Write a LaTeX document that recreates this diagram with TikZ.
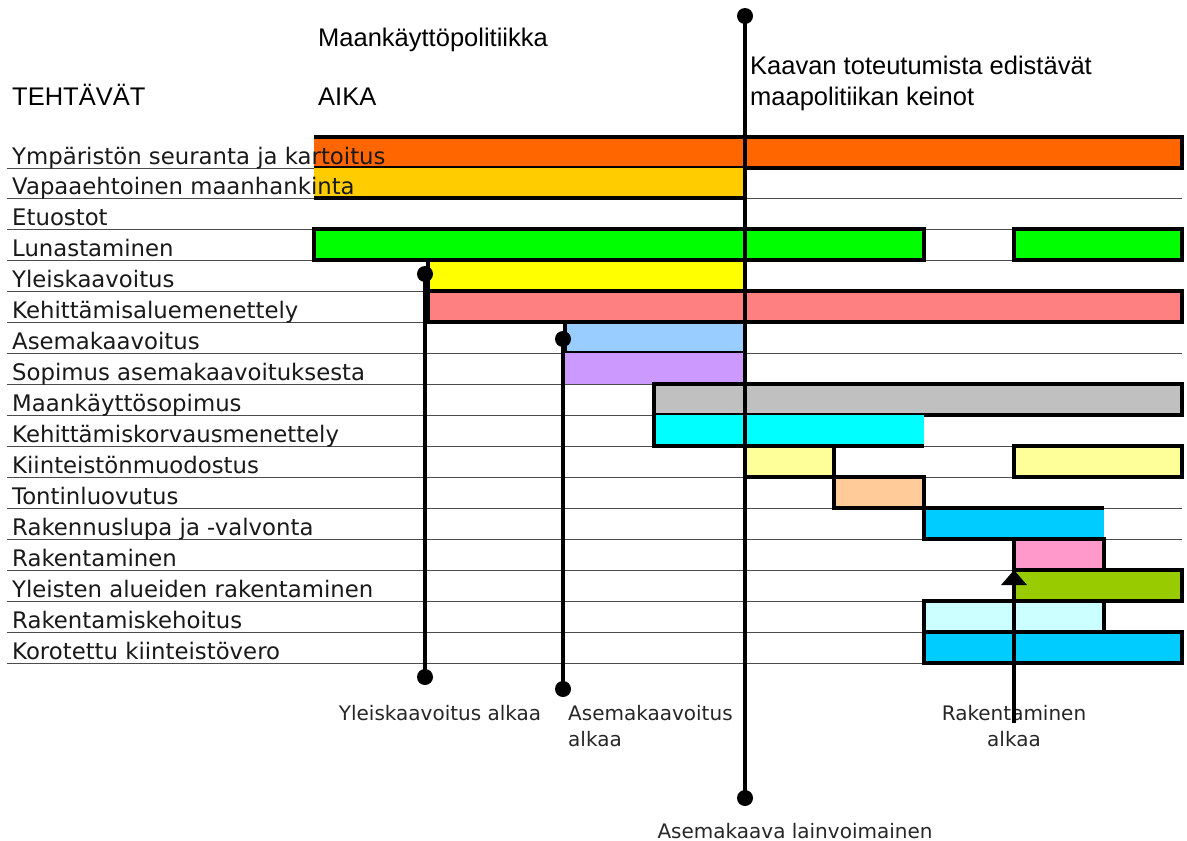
\documentclass[tikz,border=0pt]{standalone}
\usepackage{fontspec}
\setmainfont{DejaVu Sans}
\newfontfamily\headfont{Liberation Sans}
\usetikzlibrary{arrows.meta}
\definecolor{cOrange}{HTML}{FF6600}
\definecolor{cGold}{HTML}{FFCC00}
\definecolor{cGreen}{HTML}{00FF00}
\definecolor{cYellow}{HTML}{FFFF00}
\definecolor{cSalmon}{HTML}{FF8080}
\definecolor{cLightBlue}{HTML}{99CCFF}
\definecolor{cLavender}{HTML}{CC99FF}
\definecolor{cGray}{HTML}{C0C0C0}
\definecolor{cCyan}{HTML}{00FFFF}
\definecolor{cPaleYellow}{HTML}{FFFF99}
\definecolor{cPeach}{HTML}{FFCC99}
\definecolor{cSky}{HTML}{00CCFF}
\definecolor{cPink}{HTML}{FF99CC}
\definecolor{cOlive}{HTML}{99CC00}
\definecolor{cPaleCyan}{HTML}{CCFFFF}
\begin{document}
\begin{tikzpicture}[x=1pt,y=-1pt,
    bardraw/.style={line width=3.5pt},
    rowrule/.style={black!70,line width=1pt},
    tasklbl/.style={anchor=base west,inner sep=0pt,text=black!90,font=\fontsize{22.8}{26}\selectfont},
    headlbl/.style={anchor=base west,inner sep=0pt,font=\headfont\fontsize{25.5}{31}\selectfont},
    notelbl/.style={inner sep=0pt,text=black!85,font=\fontsize{20}{26}\selectfont},
    enddot/.style={circle,fill,inner sep=0pt,minimum size=16pt},
    markline/.style={line width=3.5pt}]
  \useasboundingbox (0,0) rectangle (1187,841);
  % row rules
  \foreach \y in {168,198,229,260,291,322,353,384,415,446,477,508,539,570,601,632,663}
    \draw [rowrule] (7,\y) -- (1182,\y);
  % bars
  \fill [cOrange] (314,137) rectangle (1182,168);
  \draw [bardraw] (314,137) -- (1182,137) -- (1182,168) -- (314,168);
  \fill [cGold] (314,168) rectangle (745,198);
  \draw [bardraw] (314,198) -- (745,198);
  \draw [bardraw,fill=cGreen] (314,229) rectangle (924,260);
  \draw [bardraw,fill=cGreen] (1014,229) rectangle (1182,260);
  \draw [bardraw,fill=cYellow] (428,260) rectangle (745,291);
  \draw [bardraw,fill=cSalmon] (428,291) rectangle (1182,322);
  \draw [bardraw,fill=cLightBlue] (565,322) rectangle (745,353);
  \fill [cLavender] (565,353) rectangle (745,384);
  \draw [bardraw,fill=cGray] (654,384) rectangle (1182,415);
  \fill [cCyan] (654,415) rectangle (924,446);
  \draw [bardraw] (924,446) -- (654,446) -- (654,415);
  \draw [bardraw,fill=cPaleYellow] (745,446) rectangle (834,477);
  \draw [bardraw,fill=cPaleYellow] (1014,446) rectangle (1182,477);
  \draw [bardraw,fill=cPeach] (834,477) rectangle (924,508);
  \fill [cSky] (924,508) rectangle (1104,539);
  \draw [bardraw] (1104,508) -- (924,508) -- (924,539) -- (1104,539);
  \draw [bardraw,fill=cPink] (1014,539) rectangle (1104,570);
  \draw [bardraw,fill=cOlive] (1014,570) rectangle (1182,601);
  \draw [bardraw,fill=cPaleCyan] (924,601) rectangle (1104,632);
  \draw [bardraw,fill=cSky] (924,632) rectangle (1182,663);
  % headings
  \node [headlbl] (politiikka) at (318,46) {Maankäyttöpolitiikka};
  \node [headlbl] (tehtavat) at (12,105) {TEHTÄVÄT};
  \node [headlbl] (aika) at (318,105) {AIKA};
  \node [headlbl] (keinot1) at (750,74) {Kaavan toteutumista edistävät};
  \node [headlbl] (keinot2) at (750,105) {maapolitiikan keinot};
  % tasks
  \node [tasklbl] (t0) at (12,164) {Ympäristön seuranta ja kartoitus};
  \node [tasklbl] (t1) at (12,194) {Vapaaehtoinen maanhankinta};
  \node [tasklbl] (t2) at (12,225) {Etuostot};
  \node [tasklbl] (t3) at (12,256) {Lunastaminen};
  \node [tasklbl] (t4) at (12,287) {Yleiskaavoitus};
  \node [tasklbl] (t5) at (12,318) {Kehittämisaluemenettely};
  \node [tasklbl] (t6) at (12,349) {Asemakaavoitus};
  \node [tasklbl] (t7) at (12,380) {Sopimus asemakaavoituksesta};
  \node [tasklbl] (t8) at (12,411) {Maankäyttösopimus};
  \node [tasklbl] (t9) at (12,442) {Kehittämiskorvausmenettely};
  \node [tasklbl] (t10) at (12,473) {Kiinteistönmuodostus};
  \node [tasklbl] (t11) at (12,504) {Tontinluovutus};
  \node [tasklbl] (t12) at (12,535) {Rakennuslupa ja -valvonta};
  \node [tasklbl] (t13) at (12,566) {Rakentaminen};
  \node [tasklbl] (t14) at (12,597) {Yleisten alueiden rakentaminen};
  \node [tasklbl] (t15) at (12,628) {Rakentamiskehoitus};
  \node [tasklbl] (t16) at (12,659) {Korotettu kiinteistövero};
  % milestones
  \node [enddot] (topdot) at (745,16) {};
  \node [enddot] (lawdot) at (745,798) {};
  \node [enddot] (ydot1) at (425,274) {};
  \node [enddot] (ydot2) at (425,677) {};
  \node [enddot] (adot1) at (563,339) {};
  \node [enddot] (adot2) at (563,689) {};
  \draw [markline] (topdot.center) -- (lawdot.center);
  \draw [markline] (ydot1.center) -- (ydot2.center);
  \draw [markline] (adot1.center) -- (adot2.center);
  \node [notelbl,anchor=base] (yalkaa) at (440,720) {Yleiskaavoitus alkaa};
  \node [notelbl,anchor=base west,align=left] (aalkaa) at (568,746) {Asemakaavoitus\\alkaa};
  \node [notelbl,anchor=base,align=center] (ralkaa) at (1014,746) {Rakentaminen\\alkaa};
  \node [notelbl,anchor=base] (lainvoima) at (795,838) {Asemakaava lainvoimainen};
  \coordinate (rakfoot) at (1014,723);
  \coordinate (raktip) at (1014,570);
  \draw [markline,-{Triangle[length=15pt,width=25pt]}] (rakfoot) -- (raktip);
\end{tikzpicture}
\end{document}
